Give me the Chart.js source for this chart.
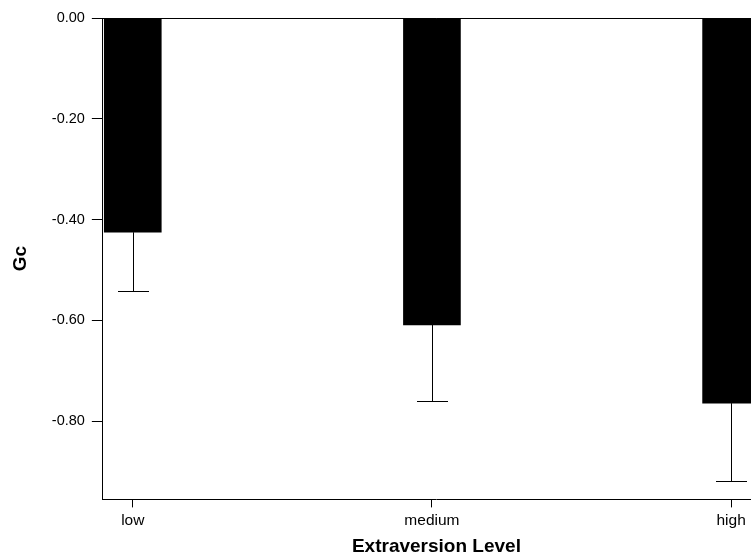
<!DOCTYPE html>
<html>
<head>
<meta charset="utf-8">
<script src="https://cdn.jsdelivr.net/npm/chart.js@4/dist/chart.umd.min.js"></script>
<style>
html,body{margin:0;padding:0;background:#fff;overflow:hidden;}
#wrap{width:751px;height:555px;position:relative;overflow:hidden;}
</style>
</head>
<body>
<div id="wrap"><canvas id="c" width="770" height="555"></canvas></div>
<script>
const categories = ['low', 'medium', 'high'];
const gcMeans = [-0.425, -0.609, -0.764];
const gcErrorEnds = [-0.542, -0.760, -0.919];
const yTickValues = [0, -0.2, -0.4, -0.6, -0.8];

const errorBars = {
  id: 'errorBars',
  afterDatasetsDraw(chart) {
    const ctx = chart.ctx;
    const xs = chart.scales.x, ys = chart.scales.y;
    ctx.save();
    ctx.strokeStyle = '#000';
    ctx.lineWidth = 1;
    categories.forEach((c, i) => {
      const x = Math.round(xs.getPixelForValue(i)) + 0.5;
      const y0 = ys.getPixelForValue(gcMeans[i]);
      const y1 = Math.round(ys.getPixelForValue(gcErrorEnds[i])) + 0.5;
      ctx.beginPath();
      ctx.moveTo(x, y0);
      ctx.lineTo(x, y1);
      ctx.moveTo(x - 15.5, y1);
      ctx.lineTo(x + 15.5, y1);
      ctx.stroke();
    });
    ctx.restore();
  }
};

new Chart(document.getElementById('c'), {
  type: 'bar',
  data: {
    datasets: [{
      label: 'Gc',
      data: categories.map((c, i) => ({ x: i, y: gcMeans[i] })),
      backgroundColor: '#000',
      borderWidth: 0,
      barThickness: 57
    }]
  },
  plugins: [errorBars],
  options: {
    responsive: false,
    animation: false,
    layout: { padding: { left: 9, right: 0, top: 18, bottom: -1 } },
    plugins: { legend: { display: false }, tooltip: { enabled: false } },
    scales: {
      x: {
        type: 'linear',
        offset: false,
        min: -0.1,
        max: 2.13,
        afterBuildTicks(scale) { scale.ticks = categories.map((c, i) => ({ value: i })); },
        ticks: {
          callback: (v) => categories[v],
          color: '#000',
          font: { family: 'Liberation Sans', size: 15.5 },
          padding: 4,
          maxRotation: 0,
          autoSkip: false
        },
        grid: { offset: false, drawOnChartArea: false, tickLength: 8, tickColor: '#000' },
        border: { display: true, color: '#000', width: 1 },
        title: {
          display: true,
          text: 'Extraversion Level',
          color: '#000',
          font: { family: 'Liberation Sans', size: 19, weight: 'bold', lineHeight: 1 },
          padding: { top: 3, bottom: 0 }
        }
      },
      y: {
        min: -0.955,
        max: 0,
        afterBuildTicks(scale) { scale.ticks = yTickValues.map(v => ({ value: v })); },
        ticks: {
          callback: (v) => v.toFixed(2),
          color: '#000',
          font: { family: 'Liberation Sans', size: 14.5 },
          padding: 7
        },
        grid: {
          tickLength: 11,
          tickColor: '#000',
          color: (ctx) => (ctx.tick && ctx.tick.value === 0 ? '#000' : 'rgba(0,0,0,0)')
        },
        border: { display: true, color: '#000', width: 1 },
        title: {
          display: true,
          text: 'Gc',
          color: '#000',
          font: { family: 'Liberation Sans', size: 19, weight: 'bold' },
          padding: { top: 0, bottom: 13 }
        }
      }
    }
  }
});
</script>
</body>
</html>
